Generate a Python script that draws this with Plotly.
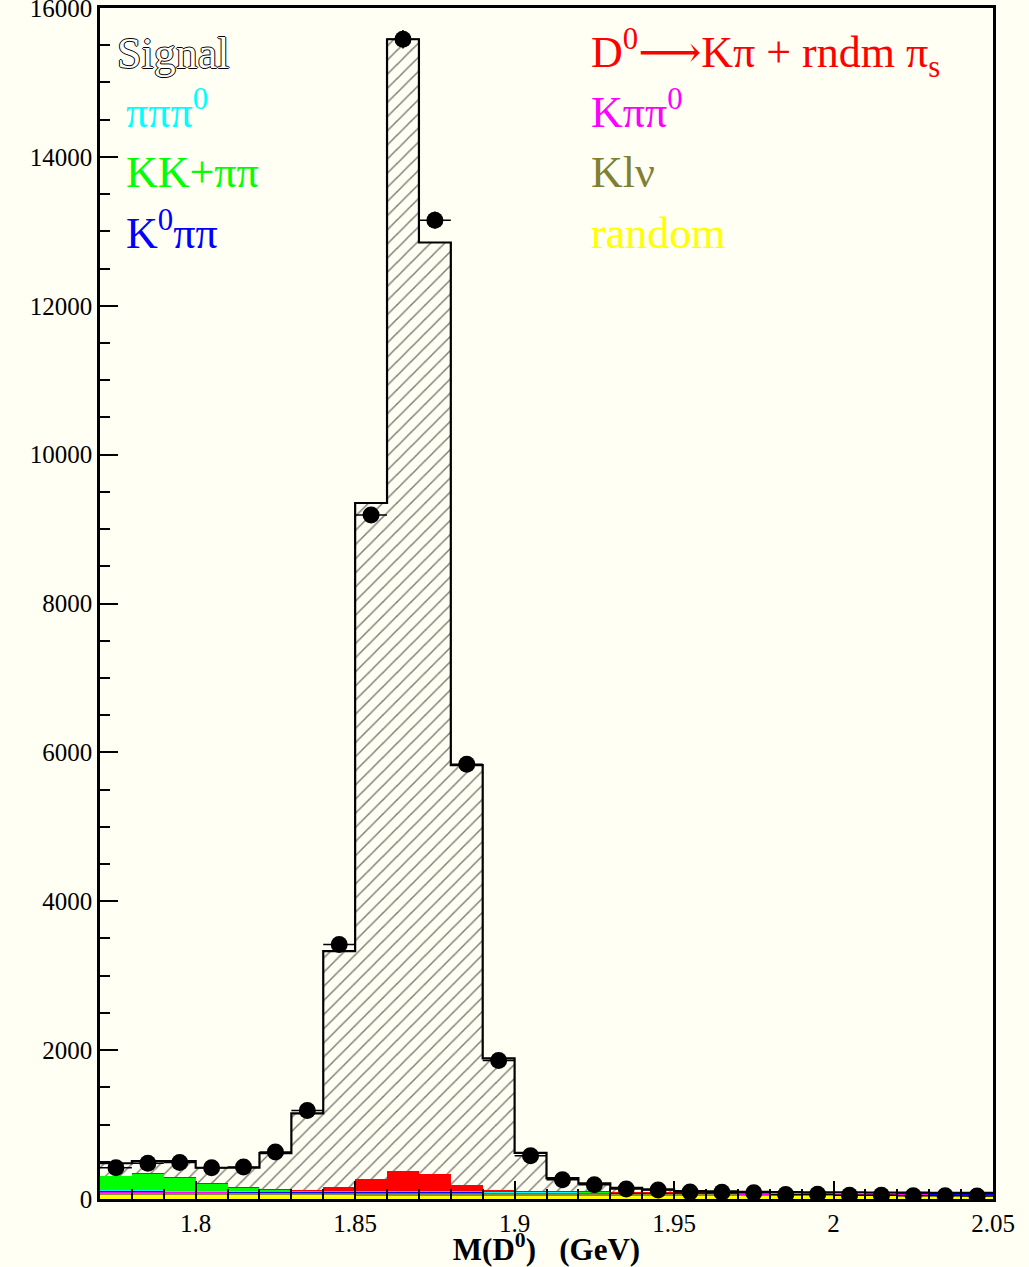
import numpy as np
import plotly.graph_objects as go

# ---- data ----
bin_low = [1.77, 1.78, 1.79, 1.80, 1.81, 1.82, 1.83, 1.84, 1.85, 1.86, 1.87, 1.88, 1.89, 1.90,
           1.91, 1.92, 1.93, 1.94, 1.95, 1.96, 1.97, 1.98, 1.99, 2.00, 2.01, 2.02, 2.03, 2.04]
bin_width = 0.01

random_bkg = [55, 55, 54, 54, 53, 53, 52, 52, 52, 51, 51, 50, 50, 50, 49, 49, 48, 48, 47, 47, 46, 46, 45, 45, 44, 44, 43, 43]
klnu = [30, 30, 29, 29, 28, 28, 27, 27, 26, 26, 25, 25, 24, 24, 23, 23, 22, 22, 21, 21, 20, 20, 19, 19, 18, 18, 17, 17]
kpipi0 = [12, 12, 12, 11, 11, 11, 10, 10, 10, 10, 10, 10, 9, 9, 9, 9, 8, 8, 8, 8, 7, 7, 7, 7, 6, 6, 6, 6]
k0pipi = [12, 12, 11, 11, 10, 10, 10, 10, 10, 10, 10, 9, 9, 9, 9, 8, 8, 8, 8, 8, 7, 7, 7, 7, 7, 6, 6, 6]
pipipi0 = [6, 6, 6, 5, 5, 5, 5, 5, 5, 5, 5, 5, 4, 4, 4, 4, 4, 4, 4, 4, 4, 3, 3, 3, 3, 3, 3, 3]
kk_pipi = [195, 225, 180, 100, 45, 15, 5, 3, 2, 2, 2, 2, 2, 2, 2, 2, 2, 2, 3, 3, 3, 3, 3, 3, 3, 3, 3, 3]
kpi_rndm = [5, 5, 5, 5, 6, 8, 15, 55, 160, 270, 230, 85, 20, 12, 8, 6, 5, 5, 4, 4, 4, 3, 3, 3, 3, 3, 3, 3]
signal = [165, 165, 213, 205, 262, 485, 1026, 3168, 9085, 15206, 12517, 5644, 1772, 510,
          176, 109, 53, 33, 12, 7, 5, 5, 4, 4, 3, 3, 2, 2]
data = [420, 480, 490, 420, 430, 630, 1190, 3420, 9190, 15580, 13150, 5840, 1860, 580,
        260, 190, 135, 120, 95, 90, 85, 60, 65, 50, 50, 45, 45, 40]

xticks = [1.8, 1.85, 1.9, 1.95, 2.0, 2.05]
xtick_text = ["1.8", "1.85", "1.9", "1.95", "2", "2.05"]
yticks = [0, 2000, 4000, 6000, 8000, 10000, 12000, 14000, 16000]
ytick_text = ["0", "2000", "4000", "6000", "8000", "10000", "12000", "14000", "16000"]

BG = "#FFFFF3"
FONT = "Liberation Serif, Times New Roman, serif"

x_low = np.array(bin_low)
centers = x_low + bin_width / 2

fig = go.Figure()

stack = [
    (random_bkg, "#FFFF00", "random"),
    (klnu, "#8C8C3A", "Klnu"),
    (kpipi0, "#FF00FF", "Kpipi0"),
    (k0pipi, "#0000FF", "K0pipi"),
    (pipipi0, "#00FFFF", "pipipi0"),
    (kk_pipi, "#00FF00", "KK+pipi"),
    (kpi_rndm, "#FF0000", "Kpi rndm"),
]
for vals, col, name in stack:
    fig.add_trace(go.Bar(x=centers, y=vals, width=bin_width, marker=dict(color=col, line=dict(width=0)),
                         name=name, showlegend=False))

fig.add_trace(go.Bar(x=centers, y=signal, width=bin_width,
                     marker=dict(color=BG, line=dict(width=0),
                                 pattern=dict(shape="/", fgcolor="black", bgcolor=BG, size=10, solidity=0.15)),
                     name="Signal", showlegend=False))

total = np.sum([np.array(v) for v, _, _ in stack], axis=0) + np.array(signal)
step_x = np.append(x_low, x_low[-1] + bin_width)
step_y = np.append(total, total[-1])
fig.add_trace(go.Scatter(x=step_x, y=step_y, mode="lines", line=dict(color="black", width=2.2, shape="hv"),
                         showlegend=False))

fig.add_trace(go.Scatter(x=centers, y=data, mode="markers",
                         marker=dict(color="black", size=17),
                         error_x=dict(type="constant", value=bin_width / 2, color="black", thickness=1.5, width=0),
                         error_y=dict(type="data", array=np.sqrt(np.array(data)), color="black", thickness=1.5, width=0),
                         showlegend=False))

fig.update_layout(
    barmode="stack", bargap=0,
    width=1029, height=1267,
    margin=dict(l=100, r=36, t=8, b=68, autoexpand=False),
    paper_bgcolor=BG, plot_bgcolor=BG,
    font=dict(family=FONT, color="black", size=24),
    showlegend=False,
)
fig.update_xaxes(range=[1.77, 2.05], tickvals=xticks, ticktext=xtick_text,
                 ticks="inside", ticklen=18, tickwidth=2, tickcolor="black",
                 minor=dict(dtick=0.01, tick0=1.77, ticks="inside", ticklen=10, tickwidth=1.5, tickcolor="black"),
                 showline=True, linecolor="black", linewidth=2.5, mirror=True, showgrid=False, zeroline=False,
                 tickfont=dict(size=25, family=FONT), ticklabeloverflow="allow",
                 title=dict(text="<b>M(D<sup>0</sup>)   (GeV)</b>", font=dict(size=31, family=FONT), standoff=0))
fig.update_yaxes(range=[0, 16000], tickvals=yticks, ticktext=ytick_text,
                 ticks="inside", ticklen=18, tickwidth=2, tickcolor="black",
                 minor=dict(dtick=500, ticks="inside", ticklen=10, tickwidth=1.5, tickcolor="black"),
                 showline=True, linecolor="black", linewidth=2.5, mirror=True, showgrid=False, zeroline=False,
                 tickfont=dict(size=25, family=FONT), ticklabeloverflow="allow")

def ann(text, x, y, color, shadow=None):
    fnt = dict(size=44, family=FONT, color=color)
    if shadow:
        fnt["shadow"] = shadow
    fig.add_annotation(text=text, x=x, y=y, xref="paper", yref="paper", xanchor="left", yanchor="middle",
                       showarrow=False, font=fnt)

outline = "1px 0 0 #000, -1px 0 0 #000, 0 1px 0 #000, 0 -1px 0 #000"
ann("Signal", 0.017, 0.962, "white", outline)
ann("πππ<sup>0</sup>", 0.027, 0.915, "#00FFFF")
ann("KK+ππ", 0.027, 0.862, "#00FF00")
ann("K<sup>0</sup>ππ", 0.027, 0.813, "#0000FF")
ann("D<sup>0</sup><span style='font-family:DejaVu Serif'>⟶</span>Kπ + rndm π<sub>s</sub>", 0.548, 0.962, "#FF0000")
ann("Kππ<sup>0</sup>", 0.548, 0.915, "#FF00FF")
ann("Klν", 0.548, 0.862, "#808033")
ann("random", 0.548, 0.811, "#FFFF00")

fig.write_html("out.html", config={"displayModeBar": False},
               post_script="document.body.style.margin='0';")
